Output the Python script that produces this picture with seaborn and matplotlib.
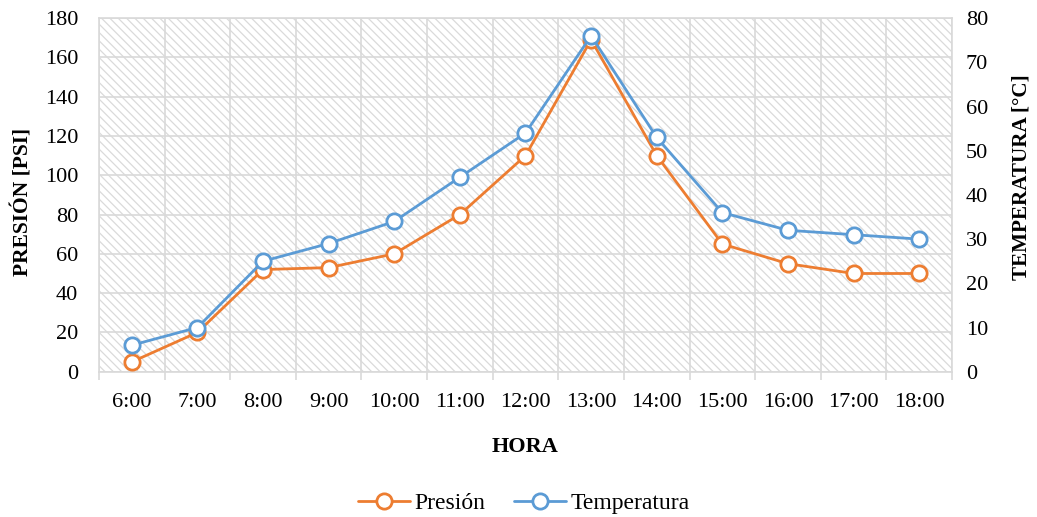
import matplotlib
matplotlib.use("Agg")
import matplotlib.pyplot as plt
import seaborn as sns
import numpy as np
import pandas as pd
from matplotlib.patches import Rectangle
from matplotlib.lines import Line2D

horas = ["6:00", "7:00", "8:00", "9:00", "10:00", "11:00", "12:00",
         "13:00", "14:00", "15:00", "16:00", "17:00", "18:00"]
presion = [5, 20, 52, 53, 60, 80, 110, 169, 110, 65, 55, 50, 50]
temperatura = [6, 10, 25, 29, 34, 44, 54, 76, 53, 36, 32, 31, 30]

sns.set_theme(style="white")
plt.rcParams['font.family'] = ['Liberation Serif', 'DejaVu Serif']
plt.rcParams['hatch.linewidth'] = 0.9
plt.rcParams['hatch.color'] = '#dadada'
plt.rcParams['text.color'] = 'black'
plt.rcParams['axes.labelcolor'] = 'black'
plt.rcParams['xtick.color'] = 'black'
plt.rcParams['ytick.color'] = 'black'

ORANGE = "#ED7D31"
BLUE = "#5B9BD5"
GRID = "#d9d9d9"
FS = 16

df = pd.DataFrame({"idx": np.arange(len(horas)), "Presión": presion,
                   "Temperatura": temperatura})

fig = plt.figure(figsize=(10.37, 5.17), dpi=100)
ax = fig.add_axes([0.0955, 0.281, 0.8225, 0.684])
ax2 = ax.twinx()

# hatched background
bg = Rectangle((0, 0), 1, 1, transform=ax.transAxes, facecolor="white",
               edgecolor="#dadada", hatch="\\\\\\\\", linewidth=0, zorder=0)
ax.add_patch(bg)

mk = dict(marker="o", markersize=11, markerfacecolor="white",
          markeredgewidth=2, linewidth=2)
sns.lineplot(data=df, x="idx", y="Presión", ax=ax, color=ORANGE,
             markeredgecolor=ORANGE, zorder=3, **mk)
sns.lineplot(data=df, x="idx", y="Temperatura", ax=ax2, color=BLUE,
             markeredgecolor=BLUE, zorder=3, **mk)

ax.set_xlim(-0.5, len(horas) - 0.5)
ax.set_ylim(0, 180)
ax.set_yticks(np.arange(0, 181, 20))
ax2.set_ylim(0, 80)
ax2.set_yticks(np.arange(0, 81, 10))

ax.set_xticks(np.arange(len(horas)))
ax.set_xticklabels(horas)
ax.set_xticks(np.arange(-0.5, len(horas), 1), minor=True)
ax.tick_params(axis="x", which="major", length=0, pad=15, labelsize=FS)
ax.tick_params(axis="x", which="minor", length=6, width=1.2, color=GRID,
               direction="out", bottom=True)
ax.tick_params(axis="y", length=0, labelsize=FS, pad=15)
ax2.tick_params(axis="y", length=0, labelsize=FS, pad=10)

ax.grid(True, which="minor", axis="x", color=GRID, linewidth=1.2)
ax.grid(True, which="major", axis="y", color=GRID, linewidth=1.2)
ax.grid(False, which="major", axis="x")
ax.set_axisbelow(True)
for sp in ax.spines.values():
    sp.set_color(GRID)
    sp.set_linewidth(1.2)
for sp in ax2.spines.values():
    sp.set_visible(False)
ax2.patch.set_visible(False)

ax.set_xlabel("HORA", fontsize=FS, fontweight="bold", labelpad=18)
ax.set_ylabel("PRESIÓN [PSI]", fontsize=15.5, fontweight="bold",
              rotation=90, va="center")
ax.yaxis.set_label_coords(-0.0895, 0.48)
ax2.set_ylabel("TEMPERATURA [°C]", fontsize=15.2, fontweight="bold",
               rotation=90, va="center")
ax2.yaxis.set_label_coords(1.082, 0.55)

handles = [Line2D([], [], color=ORANGE, markeredgecolor=ORANGE, **mk),
           Line2D([], [], color=BLUE, markeredgecolor=BLUE, **mk)]
fig.legend(handles, ["Presión", "Temperatura"], loc="center",
           bbox_to_anchor=(0.505, 0.027), ncol=2, frameon=False, fontsize=17,
           handlelength=2.2, handletextpad=0.2, columnspacing=1.2)

fig.savefig("out.png", dpi=100)
